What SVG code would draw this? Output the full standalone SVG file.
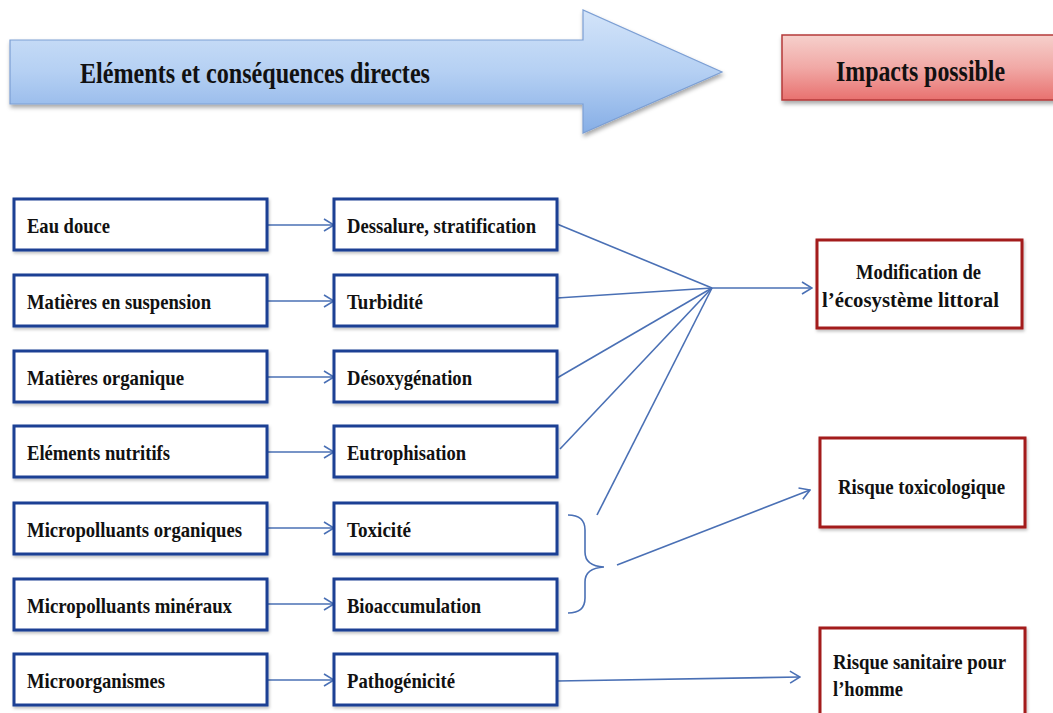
<svg xmlns="http://www.w3.org/2000/svg" width="1053" height="713" viewBox="0 0 1053 713">
<style>
.t{font-family:"Liberation Serif","DejaVu Serif","Times New Roman",serif;font-weight:bold;fill:#111;}
.b{fill:#fff;stroke:#1c3f94;stroke-width:3;}
.r{fill:#fff;stroke:#a31d1d;stroke-width:3;}
.c{fill:none;stroke:#4a70b5;stroke-width:1.6;}
</style>
<defs>
<linearGradient id="gb" x1="0" y1="0" x2="0" y2="1">
<stop offset="0" stop-color="#d3e4f9"/><stop offset="0.5" stop-color="#b5d0f3"/><stop offset="1" stop-color="#86aee6"/>
</linearGradient>
<linearGradient id="gr" x1="0" y1="0" x2="0" y2="1">
<stop offset="0" stop-color="#f6d0cc"/><stop offset="0.5" stop-color="#f1a9a6"/><stop offset="1" stop-color="#e8716f"/>
</linearGradient>
<filter id="sh" x="-10%" y="-10%" width="120%" height="130%">
<feDropShadow dx="1" dy="3" stdDeviation="2" flood-color="#000" flood-opacity="0.35"/>
</filter>
<filter id="sh2" x="-10%" y="-10%" width="120%" height="130%">
<feDropShadow dx="1" dy="2" stdDeviation="1.5" flood-color="#000" flood-opacity="0.25"/>
</filter>
<marker id="ah" markerWidth="12" markerHeight="14" refX="11" refY="7" orient="auto" markerUnits="userSpaceOnUse">
<path d="M1,1 L11,7 L1,13" fill="none" stroke="#4a70b5" stroke-width="1.6"/>
</marker>
</defs>
<rect width="1053" height="713" fill="#fff"/>

<g id="header-elements">
<path d="M10,40 L583,40 L583,10 L722,72 L583,133 L583,104 L10,104 Z" fill="url(#gb)" stroke="#7c9fd4" stroke-width="1.2" filter="url(#sh)"/>
<text class="t" x="80" y="83" font-size="30" textLength="350" lengthAdjust="spacingAndGlyphs">Eléments et conséquences directes</text>
</g>
<g id="header-impacts">
<rect x="782" y="35" width="275" height="65" fill="url(#gr)" stroke="#b53a3a" stroke-width="1.5" filter="url(#sh)"/>
<text class="t" x="836" y="81" font-size="30" textLength="169" lengthAdjust="spacingAndGlyphs">Impacts possible</text>
</g>

<g id="connectors">
<line class="c" x1="267" y1="225" x2="334" y2="225" marker-end="url(#ah)"/>
<line class="c" x1="267" y1="301" x2="334" y2="301" marker-end="url(#ah)"/>
<line class="c" x1="267" y1="377" x2="334" y2="377" marker-end="url(#ah)"/>
<line class="c" x1="267" y1="452" x2="334" y2="452" marker-end="url(#ah)"/>
<line class="c" x1="267" y1="528" x2="334" y2="528" marker-end="url(#ah)"/>
<line class="c" x1="267" y1="604" x2="334" y2="604" marker-end="url(#ah)"/>
<line class="c" x1="267" y1="680" x2="334" y2="680" marker-end="url(#ah)"/>
<line class="c" x1="557" y1="224" x2="712" y2="288"/>
<line class="c" x1="557" y1="298" x2="712" y2="288"/>
<line class="c" x1="557" y1="378" x2="712" y2="288"/>
<line class="c" x1="560" y1="449" x2="712" y2="288"/>
<line class="c" x1="597" y1="515" x2="712" y2="288"/>
<line class="c" x1="712" y1="288" x2="812" y2="288" marker-end="url(#ah)"/>
<path class="c" d="M568,515 Q585,515 585,530 L585,552 Q585,566 604,567 Q585,568 585,582 L585,598 Q585,613 568,613"/>
<line class="c" x1="617" y1="565" x2="810" y2="490" marker-end="url(#ah)"/>
<line class="c" x1="557" y1="681" x2="800" y2="677" marker-end="url(#ah)"/>
</g>

<g id="n-eau-douce"><rect class="b" x="14" y="199" width="253" height="51" filter="url(#sh2)"/><text class="t" x="27" y="233" font-size="22" textLength="83" lengthAdjust="spacingAndGlyphs">Eau douce</text></g>
<g id="n-mes"><rect class="b" x="14" y="275" width="253" height="51" filter="url(#sh2)"/><text class="t" x="27" y="309" font-size="22" textLength="184" lengthAdjust="spacingAndGlyphs">Matières en suspension</text></g>
<g id="n-mo"><rect class="b" x="14" y="351" width="253" height="51" filter="url(#sh2)"/><text class="t" x="27" y="385" font-size="22" textLength="157" lengthAdjust="spacingAndGlyphs">Matières organique</text></g>
<g id="n-en"><rect class="b" x="14" y="426" width="253" height="51" filter="url(#sh2)"/><text class="t" x="27" y="460" font-size="22" textLength="143" lengthAdjust="spacingAndGlyphs">Eléments nutritifs</text></g>
<g id="n-mpo"><rect class="b" x="14" y="503" width="253" height="51" filter="url(#sh2)"/><text class="t" x="27" y="537" font-size="22" textLength="215" lengthAdjust="spacingAndGlyphs">Micropolluants organiques</text></g>
<g id="n-mpm"><rect class="b" x="14" y="579" width="253" height="51" filter="url(#sh2)"/><text class="t" x="27" y="613" font-size="22" textLength="205" lengthAdjust="spacingAndGlyphs">Micropolluants minéraux</text></g>
<g id="n-micro"><rect class="b" x="14" y="654" width="253" height="51" filter="url(#sh2)"/><text class="t" x="27" y="688" font-size="22" textLength="138" lengthAdjust="spacingAndGlyphs">Microorganismes</text></g>

<g id="n-dessalure"><rect class="b" x="334" y="199" width="223" height="51" filter="url(#sh2)"/><text class="t" x="347" y="233" font-size="22" textLength="189" lengthAdjust="spacingAndGlyphs">Dessalure, stratification</text></g>
<g id="n-turbidite"><rect class="b" x="334" y="275" width="223" height="51" filter="url(#sh2)"/><text class="t" x="347" y="309" font-size="22" textLength="76" lengthAdjust="spacingAndGlyphs">Turbidité</text></g>
<g id="n-desox"><rect class="b" x="334" y="351" width="223" height="51" filter="url(#sh2)"/><text class="t" x="347" y="385" font-size="22" textLength="125" lengthAdjust="spacingAndGlyphs">Désoxygénation</text></g>
<g id="n-eutro"><rect class="b" x="334" y="426" width="223" height="51" filter="url(#sh2)"/><text class="t" x="347" y="460" font-size="22" textLength="119" lengthAdjust="spacingAndGlyphs">Eutrophisation</text></g>
<g id="n-toxicite"><rect class="b" x="334" y="503" width="223" height="51" filter="url(#sh2)"/><text class="t" x="347" y="537" font-size="22" textLength="64" lengthAdjust="spacingAndGlyphs">Toxicité</text></g>
<g id="n-bioacc"><rect class="b" x="334" y="579" width="223" height="51" filter="url(#sh2)"/><text class="t" x="347" y="613" font-size="22" textLength="134" lengthAdjust="spacingAndGlyphs">Bioaccumulation</text></g>
<g id="n-patho"><rect class="b" x="334" y="654" width="223" height="51" filter="url(#sh2)"/><text class="t" x="347" y="688" font-size="22" textLength="108" lengthAdjust="spacingAndGlyphs">Pathogénicité</text></g>

<g id="n-modif"><rect class="r" x="817" y="240" width="205" height="88" filter="url(#sh2)"/>
<text class="t" x="856" y="279" font-size="22" textLength="125" lengthAdjust="spacingAndGlyphs">Modification de</text>
<text class="t" x="822" y="307" font-size="22" textLength="177" lengthAdjust="spacingAndGlyphs">l’écosystème littoral</text></g>
<g id="n-toxico"><rect class="r" x="820" y="438" width="205" height="89" filter="url(#sh2)"/>
<text class="t" x="838" y="494" font-size="22" textLength="167" lengthAdjust="spacingAndGlyphs">Risque toxicologique</text></g>
<g id="n-sanitaire"><rect class="r" x="820" y="628" width="205" height="90" filter="url(#sh2)"/>
<text class="t" x="833" y="669" font-size="22" textLength="173" lengthAdjust="spacingAndGlyphs">Risque sanitaire pour</text>
<text class="t" x="833" y="696" font-size="22" textLength="70" lengthAdjust="spacingAndGlyphs">l’homme</text></g>
</svg>
